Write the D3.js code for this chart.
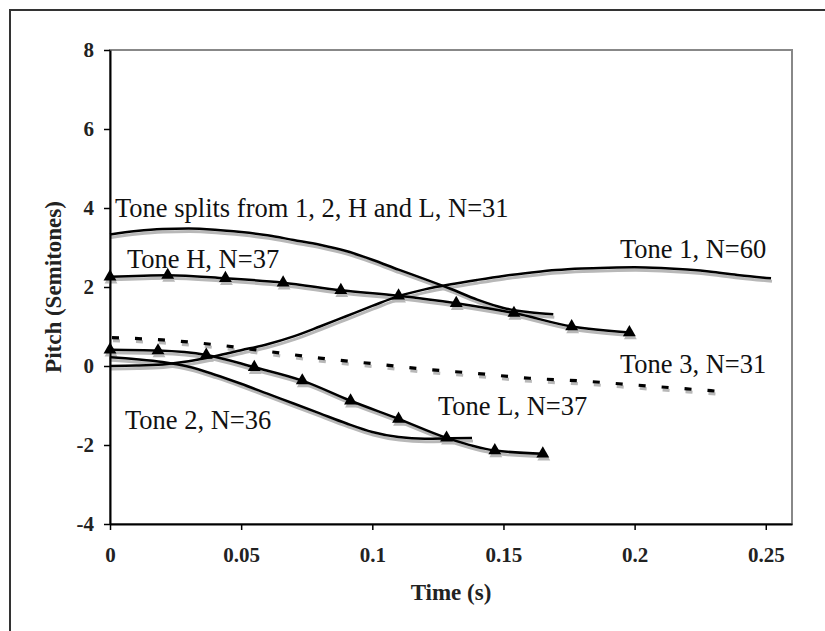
<!DOCTYPE html>
<html>
<head>
<meta charset="utf-8">
<script src="https://cdn.jsdelivr.net/npm/d3@7"></script>
<style>
  body { margin: 0; background: #fff; }
  text { font-family: "Liberation Serif", "Times New Roman", serif; }
</style>
</head>
<body>
<svg width="825" height="631"></svg>
<script>
// values (time in s, pitch in semitones)
var tone1Time = [0, 0.01, 0.02, 0.03, 0.04, 0.05, 0.06, 0.07, 0.08, 0.09, 0.10, 0.11, 0.12, 0.13, 0.14, 0.15, 0.16, 0.17, 0.18, 0.19, 0.20, 0.21, 0.22, 0.23, 0.24, 0.252];
var tone1Pitch = [0, 0.01, 0.04, 0.12, 0.25, 0.4, 0.55, 0.75, 1.0, 1.26, 1.52, 1.77, 1.94, 2.07, 2.18, 2.28, 2.36, 2.43, 2.47, 2.49, 2.5, 2.48, 2.44, 2.38, 2.3, 2.22];

var splitTime = [0, 0.01, 0.02, 0.03, 0.04, 0.05, 0.06, 0.07, 0.08, 0.09, 0.10, 0.11, 0.12, 0.13, 0.14, 0.15, 0.16, 0.169];
var splitPitch = [3.33, 3.42, 3.47, 3.48, 3.45, 3.39, 3.31, 3.19, 3.07, 2.91, 2.69, 2.44, 2.2, 1.95, 1.68, 1.47, 1.36, 1.31];

var tone2Time = [0, 0.01, 0.02, 0.03, 0.04, 0.05, 0.06, 0.07, 0.08, 0.09, 0.10, 0.11, 0.12, 0.13, 0.138];
var tone2Pitch = [0.22, 0.17, 0.1, -0.02, -0.22, -0.45, -0.7, -0.95, -1.2, -1.45, -1.67, -1.8, -1.84, -1.83, -1.82];

var tone3Time = [0, 0.02, 0.04, 0.06, 0.08, 0.10, 0.12, 0.14, 0.16, 0.18, 0.20, 0.22, 0.234];
var tone3Pitch = [0.72, 0.66, 0.54, 0.37, 0.2, 0.06, -0.08, -0.19, -0.31, -0.38, -0.48, -0.58, -0.65];

var toneHTime = [0, 0.022, 0.044, 0.066, 0.088, 0.11, 0.132, 0.154, 0.176, 0.198];
var toneHPitch = [2.26, 2.3, 2.22, 2.11, 1.92, 1.78, 1.59, 1.34, 1.0, 0.85];

var toneLTime = [0, 0.0183, 0.0367, 0.055, 0.0733, 0.0917, 0.11, 0.1283, 0.1467, 0.165];
var toneLPitch = [0.41, 0.39, 0.28, -0.03, -0.37, -0.88, -1.34, -1.82, -2.14, -2.22];

var xTicks = [0, 0.05, 0.1, 0.15, 0.2, 0.25];
var yTicks = [-4, -2, 0, 2, 4, 6, 8];

var labels = ["Tone splits from 1, 2, H and L, N=31", "Tone H, N=37", "Tone 1, N=60", "Tone 3, N=31", "Tone L, N=37", "Tone 2, N=36"];

var svg = d3.select("svg");

// outer frame (only top and left edges show in the crop)
svg.append("path")
    .attr("d", "M10,631V10H825")
    .attr("fill", "none")
    .attr("stroke", "#333")
    .attr("stroke-width", 2);

var x = d3.scaleLinear().domain([0, 0.26]).range([110, 792]);
var y = d3.scaleLinear().domain([-4, 8]).range([524, 50]);

// plot area border
svg.append("rect")
    .attr("x", x(0)).attr("y", y(8))
    .attr("width", x(0.26) - x(0)).attr("height", y(-4) - y(8))
    .attr("fill", "none")
    .attr("stroke", "#888")
    .attr("stroke-width", 2);

function zip(ts, vs) { return ts.map(function(t, i) { return [t, vs[i]]; }); }

var line = d3.line()
    .x(function(d) { return x(d[0]); })
    .y(function(d) { return y(d[1]); })
    .curve(d3.curveMonotoneX);

var series = [
  {pts: zip(splitTime, splitPitch)},
  {pts: zip(tone1Time, tone1Pitch)},
  {pts: zip(tone2Time, tone2Pitch)},
  {pts: zip(tone3Time, tone3Pitch), dash: "7,16"},
  {pts: zip(toneHTime, toneHPitch), marker: true},
  {pts: zip(toneLTime, toneLPitch), marker: true}
];

var tri = d3.symbol().type(d3.symbolTriangle).size(72);

// draw once as a grey drop shadow, then in black
[{dx: 1, dy: 3, c: "#b8b8b8", w: 3}, {dx: 0, dy: 0, c: "#000", w: 2.5}].forEach(function(s) {
  var g = svg.append("g").attr("transform", "translate(" + s.dx + "," + s.dy + ")");
  series.forEach(function(d) {
    g.append("path")
        .attr("d", line(d.pts))
        .attr("fill", "none")
        .attr("stroke", s.c)
        .attr("stroke-width", d.dash ? 3.2 : s.w)
        .attr("stroke-dasharray", d.dash || null)
        .attr("stroke-dashoffset", d.dash ? -2 : null);
    if (d.marker) {
      g.selectAll(null)
        .data(d.pts)
        .enter().append("path")
          .attr("d", tri)
          .attr("transform", function(p) { return "translate(" + x(p[0]) + "," + y(p[1]) + ")"; })
          .attr("fill", s.c);
    }
  });
});

// axes
var yAxis = svg.append("g")
    .attr("transform", "translate(" + x(0) + ",0)")
    .call(d3.axisLeft(y).tickValues(yTicks).tickSize(6).tickSizeOuter(0).tickPadding(10)
      .tickFormat(function(d) { return String(d); }));

var xAxis = svg.append("g")
    .attr("transform", "translate(0," + y(-4) + ")")
    .call(d3.axisBottom(x).tickValues(xTicks).tickSize(6).tickSizeOuter(0)
      .tickFormat(function(d) { return String(+d.toFixed(2)); }));

[yAxis, xAxis].forEach(function(a) {
  a.select(".domain").attr("stroke", "#000").attr("stroke-width", 2);
  a.selectAll(".tick line").attr("stroke", "#000").attr("stroke-width", 1.5);
  a.selectAll(".tick text")
      .attr("fill", "#222")
      .attr("font-family", "Liberation Serif, serif")
      .attr("font-size", 21)
      .attr("font-weight", "bold");
});
xAxis.selectAll(".tick text").attr("y", 38).attr("dy", null);

// axis titles
svg.append("text")
    .attr("transform", "translate(61,287) rotate(-90)")
    .attr("text-anchor", "middle")
    .attr("font-size", 23)
    .attr("font-weight", "bold")
    .attr("fill", "#222")
    .text("Pitch (Semitones)");

svg.append("text")
    .attr("x", 451).attr("y", 600)
    .attr("text-anchor", "middle")
    .attr("font-size", 23)
    .attr("font-weight", "bold")
    .attr("fill", "#222")
    .text("Time (s)");

// series labels
var labelPos = [[115, 217], [127, 268], [620, 258], [620, 373], [438, 415], [125, 429]];
svg.selectAll(".lbl")
  .data(labels)
  .enter().append("text")
    .attr("class", "lbl")
    .attr("x", function(d, i) { return labelPos[i][0]; })
    .attr("y", function(d, i) { return labelPos[i][1]; })
    .attr("font-size", 26.5)
    .attr("fill", "#111")
    .text(function(d) { return d; });
</script>
</body>
</html>
